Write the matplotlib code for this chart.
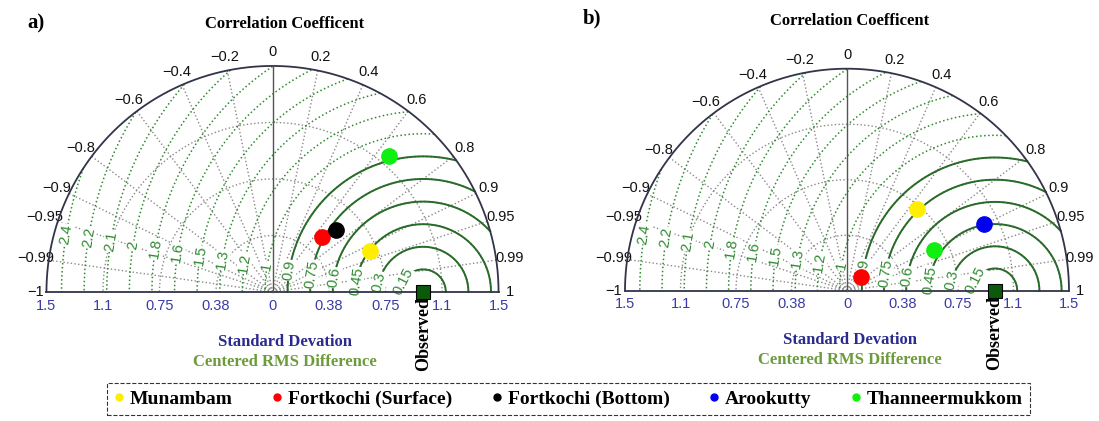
import numpy as np
import matplotlib.pyplot as plt
from matplotlib.lines import Line2D

# correlation ticks along the outer arc
corr_ticks = [-1, -0.99, -0.95, -0.9, -0.8, -0.6, -0.4, -0.2, 0,
              0.2, 0.4, 0.6, 0.8, 0.9, 0.95, 0.99, 1]
corr_labels = ['\u22121', '\u22120.99', '\u22120.95', '\u22120.9', '\u22120.8',
               '\u22120.6', '\u22120.4', '\u22120.2', '0', '0.2', '0.4', '0.6',
               '0.8', '0.9', '0.95', '0.99', '1']

# standard deviation ticks
std_ticks = [0.375, 0.75, 1.125, 1.5]
std_labels = ['0.38', '0.75', '1.1', '1.5']
std_max = 1.5

# centered RMS difference contours
rms_levels = [0.15, 0.3, 0.45, 0.6, 0.75, 0.9, 1.05, 1.2, 1.35, 1.5,
              1.65, 1.8, 1.95, 2.1, 2.25, 2.4]
rms_labels = ['0.15', '0.3', '0.45', '0.6', '0.75', '0.9', '1', '1.2', '1.3',
              '1.5', '1.6', '1.8', '2', '2.1', '2.2', '2.4']

obs_std = 1.0

stations = ['Munambam', 'Fortkochi (Surface)', 'Fortkochi (Bottom)',
            'Arookutty', 'Thanneermukkom']
station_colors = ['#ffee00', '#ff0000', '#000000', '#0000ee', '#11ee11']

# panel a
std_a = [0.703, 0.488, 0.589, None, 1.190]
corr_a = [0.921, 0.669, 0.716, None, 0.652]
# panel b
std_b = [0.726, 0.134, None, 1.031, 0.651]
corr_b = [0.649, 0.707, None, 0.900, 0.906]

W, H = 1099, 421
serif = 'Liberation Serif'
sans = 'Liberation Sans'
grey = '#8a8a8a'
rms_green = '#2f8a2f'
rms_dark = '#2a6a2a'


def make_axes(fig, ox, oy, scale):
    # ox, oy: origin in pixels from top-left, scale: pixels per unit
    x0, x1, y0, y1 = -1.75, 1.75, -0.62, 1.75
    left = (ox + x0 * scale) / W
    bottom = (H - (oy - y0 * scale)) / H
    ax = fig.add_axes([left, bottom, (x1 - x0) * scale / W, (y1 - y0) * scale / H])
    ax.set_xlim(x0, x1)
    ax.set_ylim(y0, y1)
    ax.set_aspect('equal')
    ax.axis('off')
    return ax


def taylor_panel(ax, stds, corrs, tag, tag_xy, title_xy):
    t = np.linspace(0, np.pi, 721)

    # std grid arcs
    for s in std_ticks[:-1]:
        ax.plot(s * np.cos(t), s * np.sin(t), ls=':', color=grey, lw=1.0, zorder=1)

    # correlation rays
    for c in corr_ticks:
        if c in (0, 1, -1):
            continue
        a = np.arccos(c)
        ax.plot([0, std_max * np.cos(a)], [0, std_max * np.sin(a)],
                ls=':', color=grey, lw=1.0, zorder=1)

    # RMS difference arcs around the observed point
    for lev, lab in zip(rms_levels, rms_labels):
        x = obs_std + lev * np.cos(t)
        y = lev * np.sin(t)
        out = x ** 2 + y ** 2 > std_max ** 2
        x = np.where(out, np.nan, x)
        y = np.where(out, np.nan, y)
        ax.plot(x, y, ls=':', color=rms_green, lw=1.1, zorder=2)
        if lev <= 0.9:
            ax.plot(x, y, ls='-', color=rms_dark, lw=1.4, zorder=2)
        sphi = max(0.16, 0.068 / lev)
        phi = np.pi - np.arcsin(sphi)
        lx = obs_std + lev * np.cos(phi)
        ly = lev * np.sin(phi)
        rot = np.degrees(phi) - 90
        ax.text(lx, ly, lab, color=rms_green, fontsize=10.5, family=sans,
                rotation=rot, rotation_mode='anchor', ha='center', va='center',
                zorder=3, bbox=dict(fc='white', ec='none', pad=0.3))

    # frame: outer arc, base line and zero-correlation line
    ax.plot(std_max * np.cos(t), std_max * np.sin(t), color='#33334a', lw=1.3, zorder=4)
    ax.plot([-std_max, std_max], [0, 0], color='#33334a', lw=1.3, zorder=4)
    ax.plot([0, 0], [0, std_max], color='#555555', lw=1.0, zorder=4)

    # correlation labels
    for c, lab in zip(corr_ticks, corr_labels):
        a = np.arccos(c)
        r = 1.06 * std_max if abs(c) < 1 else 1.05 * std_max
        ax.text(r * np.cos(a), r * np.sin(a), lab, fontsize=10.5, family=sans,
                ha='center', va='center', color='#111111')

    # std labels on both sides
    for s, lab in zip(std_ticks, std_labels):
        for sign in (-1, 1):
            ax.text(sign * s, -0.09, lab, fontsize=10.5, family=sans,
                    ha='center', va='center', color='#3a3aa8')
    ax.text(0, -0.09, '0', fontsize=10.5, family=sans, ha='center',
            va='center', color='#3a3aa8')

    # stations
    for s, c, col in zip(stds, corrs, station_colors):
        if s is None:
            continue
        a = np.arccos(c)
        ax.plot(s * np.cos(a), s * np.sin(a), 'o', ms=11, color=col,
                mec=col, zorder=6)

    # observed reference
    ax.plot(obs_std, 0, 's', ms=10, color='#0b5a0b', mec='black', mew=0.8,
            zorder=7, clip_on=False)
    ax.text(obs_std, -0.035, 'Observed', rotation=90, ha='center', va='top',
            fontsize=13, family=serif, weight='bold')

    tx, ty = title_xy
    ax.text(tx, ty, 'Correlation Coefficent', ha='center', va='center',
            fontsize=12, family=serif, weight='bold')
    ax.text(tx, -0.33, 'Standard Devation', ha='center', va='center',
            fontsize=12, family=serif, weight='bold', color='#2b2b8f')
    ax.text(tx, -0.465, 'Centered RMS Difference', ha='center', va='center',
            fontsize=12, family=serif, weight='bold', color='#6b9b3a')
    ax.text(tag_xy[0], tag_xy[1], tag, ha='center', va='center', fontsize=15,
            family=serif, weight='bold')


fig = plt.figure(figsize=(W / 100, H / 100), dpi=100)

ax_a = make_axes(fig, 272.5, 292, 150.7)
taylor_panel(ax_a, std_a, corr_a, 'a)', (-1.57, 1.78), (0.08, 1.78))

ax_b = make_axes(fig, 847, 290.7, 148.0)
taylor_panel(ax_b, std_b, corr_b, 'b)', (-1.72, 1.84), (0.02, 1.82))

handles = [Line2D([], [], ls='none', marker='o', ms=5, color=col)
           for col in station_colors]
leg = fig.legend(handles, stations, loc='center', bbox_to_anchor=(0.517, 0.052),
                 ncol=5, frameon=True, fancybox=False, handlelength=0.6,
                 handletextpad=0.25, columnspacing=2.0, borderpad=0.35,
                 prop={'family': serif, 'weight': 'bold', 'size': 14})
frame = leg.get_frame()
frame.set_edgecolor('black')
frame.set_linestyle('--')
frame.set_linewidth(0.8)

fig.savefig('out.png', dpi=100)
